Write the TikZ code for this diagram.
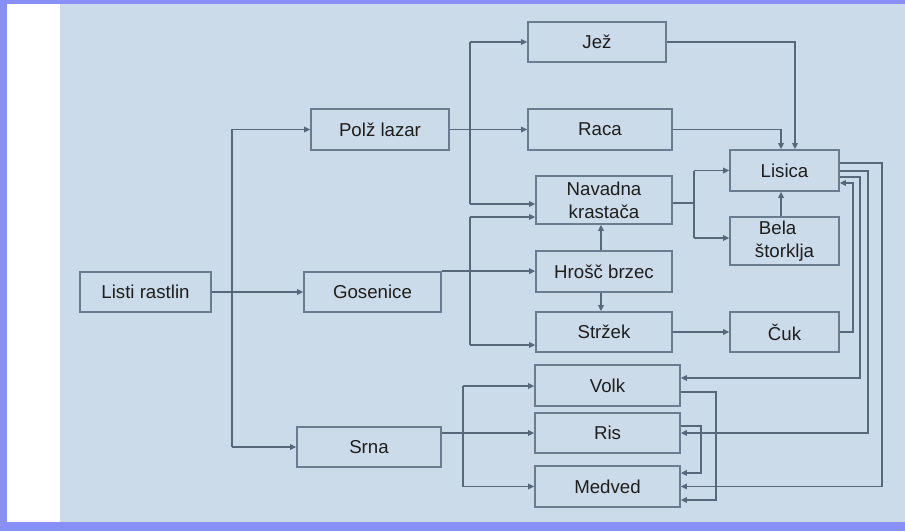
\documentclass[tikz,border=0pt]{standalone}
\usepackage{fontspec}
\setmainfont{Liberation Sans}
\usetikzlibrary{arrows.meta,calc}
\definecolor{framec}{HTML}{8890F8}
\definecolor{bgc}{HTML}{CBDBEA}
\definecolor{linec}{HTML}{56687A}
\definecolor{boxc}{HTML}{6A7C8F}
\definecolor{txtc}{HTML}{1E1E1E}
\tikzset{
  box/.style={draw=boxc, line width=1.3pt, inner sep=0pt, text=txtc, align=center,
    font=\fontsize{14}{17}\selectfont},
  conn/.style={draw=linec, line width=1.2pt},
  arr/.style={conn, -{Triangle[length=4.5pt,width=4.2pt]}},
}
\begin{document}
\begin{tikzpicture}[x=0.75pt,y=-0.75pt]
\useasboundingbox (0,0) rectangle (905,531);
% frame and background
\fill[white] (0,0) rectangle (905,531);
\fill[framec] (0,0) rectangle (905,4);
\fill[framec] (0,0) rectangle (7,531);
\fill[framec] (0,522) rectangle (905,531);
\fill[bgc] (60,4) rectangle (905,522);

% nodes
\node[box, minimum width=98.25pt, minimum height=30pt] (lr) at (145.5,292) {Listi rastlin};
\node[box, minimum width=102.75pt, minimum height=30pt] (gos) at (372.5,292) {Gosenice};
\node[box, minimum width=103.5pt, minimum height=30.75pt] (pl) at (380,129.5) {Polž lazar};
\node[box, minimum width=108pt, minimum height=30pt] (srna) at (369,447) {Srna};
\node[box, minimum width=103.5pt, minimum height=30pt] (jez) at (597,42) {Jež};
\node[box, minimum width=108pt, minimum height=30.75pt] (raca) at (600,129.5) {Raca};
\node[box, minimum width=102pt, minimum height=36pt] (nk) at (604,200) {Navadna\\krastača};
\node[box, minimum width=102pt, minimum height=30.75pt] (hb) at (604,271.5) {Hrošč brzec};
\node[box, minimum width=102pt, minimum height=30pt] (str) at (604,332) {Stržek};
\node[box, minimum width=81.75pt, minimum height=30.75pt] (lis) at (784.5,170.5) {Lisica};
\node[box, minimum width=81.75pt, minimum height=36pt, align=left] (bs) at (784.5,241) {\hspace*{3pt}Bela\\štorklja};
\node[box, minimum width=81.75pt, minimum height=30pt] (cuk) at (784.5,332) {Čuk};
\node[box, minimum width=108.75pt, minimum height=30.75pt] (volk) at (607.5,385.5) {Volk};
\node[box, minimum width=108.75pt, minimum height=30pt] (ris) at (607.5,433) {Ris};
\node[box, minimum width=108.75pt, minimum height=30.75pt] (med) at (607.5,486.5) {Medved};

% junction coordinates
\coordinate (tA) at (232,292);
\coordinate (tB) at (470,204);
\coordinate (tC1) at (470,217);
\coordinate (tC2) at (470,345);
\coordinate (tD) at (694,203);
\coordinate (tE1) at (463,386);
\coordinate (tE2) at (463,486.5);
\coordinate (cukR) at (853,183);
\coordinate (lv) at (860,378);
\coordinate (lr2) at (868,433);
\coordinate (lm) at (882,486.5);
\coordinate (vm) at (716,500);
\coordinate (rm) at (701,473);

% Listi rastlin
\draw[arr] (lr.east) -- (gos.west);
\draw[conn] (tA |- pl.west) -- (tA |- srna.west);
\draw[arr] (tA |- pl.west) -- (pl.west);
\draw[arr] (tA |- srna.west) -- (srna.west);

% Polž lazar
\draw[arr] (pl.east) -- (raca.west);
\draw[conn] (tB |- jez.west) -- (tB);
\draw[arr] (tB |- jez.west) -- (jez.west);
\draw[arr] (tB) -- (tB -| nk.west);

% Gosenice
\draw[arr] (gos.north east) -- (gos.north east -| hb.west);
\draw[conn] (tC1) -- (tC2);
\draw[arr] (tC1) -- (tC1 -| nk.west);
\draw[arr] (tC2) -- (tC2 -| str.west);

% Hrošč brzec
\draw[arr] ($(hb.north)+(-3,0)$) -- ($(nk.south)+(-3,0)$);
\draw[arr] ($(hb.south)+(-3,0)$) -- ($(str.north)+(-3,0)$);

% Jež, Raca -> Lisica
\draw[arr] (jez.east) -| ($(lis.north)+(10.5,0)$);
\draw[arr] (raca.east) -| ($(lis.north)+(-3.5,0)$);

% Navadna krastača
\draw[conn] (nk.east |- tD) -- (tD);
\draw[conn] (tD |- lis.west) -- (tD |- 0,238);
\draw[arr] (tD |- lis.west) -- (lis.west);
\draw[arr] (tD |- 0,238) -- (bs.west |- 0,238);

% Bela štorklja -> Lisica
\draw[arr] ($(bs.north)+(-3.5,0)$) -- ($(lis.south)+(-3.5,0)$);

% Stržek -> Čuk -> Lisica
\draw[arr] (str.east |- cuk.west) -- (cuk.west);
\draw[arr] (cuk.east) -| (cukR) -- (lis.east |- cukR);

% Lisica -> Volk, Ris, Medved
\draw[arr] (lis.east |- 0,177) -| (lv) -- (volk.east |- lv);
\draw[arr] (lis.east |- 0,171) -| (lr2) -- (ris.east |- lr2);
\draw[arr] (lis.east |- 0,163) -| (lm) -- (med.east |- lm);

% Volk, Ris -> Medved
\draw[arr] (volk.east |- 0,392) -| (vm) -- (med.east |- vm);
\draw[arr] (ris.east |- 0,426) -| (rm) -- (med.east |- rm);

% Srna
\draw[arr] (srna.east |- ris.west) -- (ris.west);
\draw[conn] (tE1) -- (tE2);
\draw[arr] (tE1) -- (tE1 -| volk.west);
\draw[arr] (tE2) -- (tE2 -| med.west);
\end{tikzpicture}
\end{document}
